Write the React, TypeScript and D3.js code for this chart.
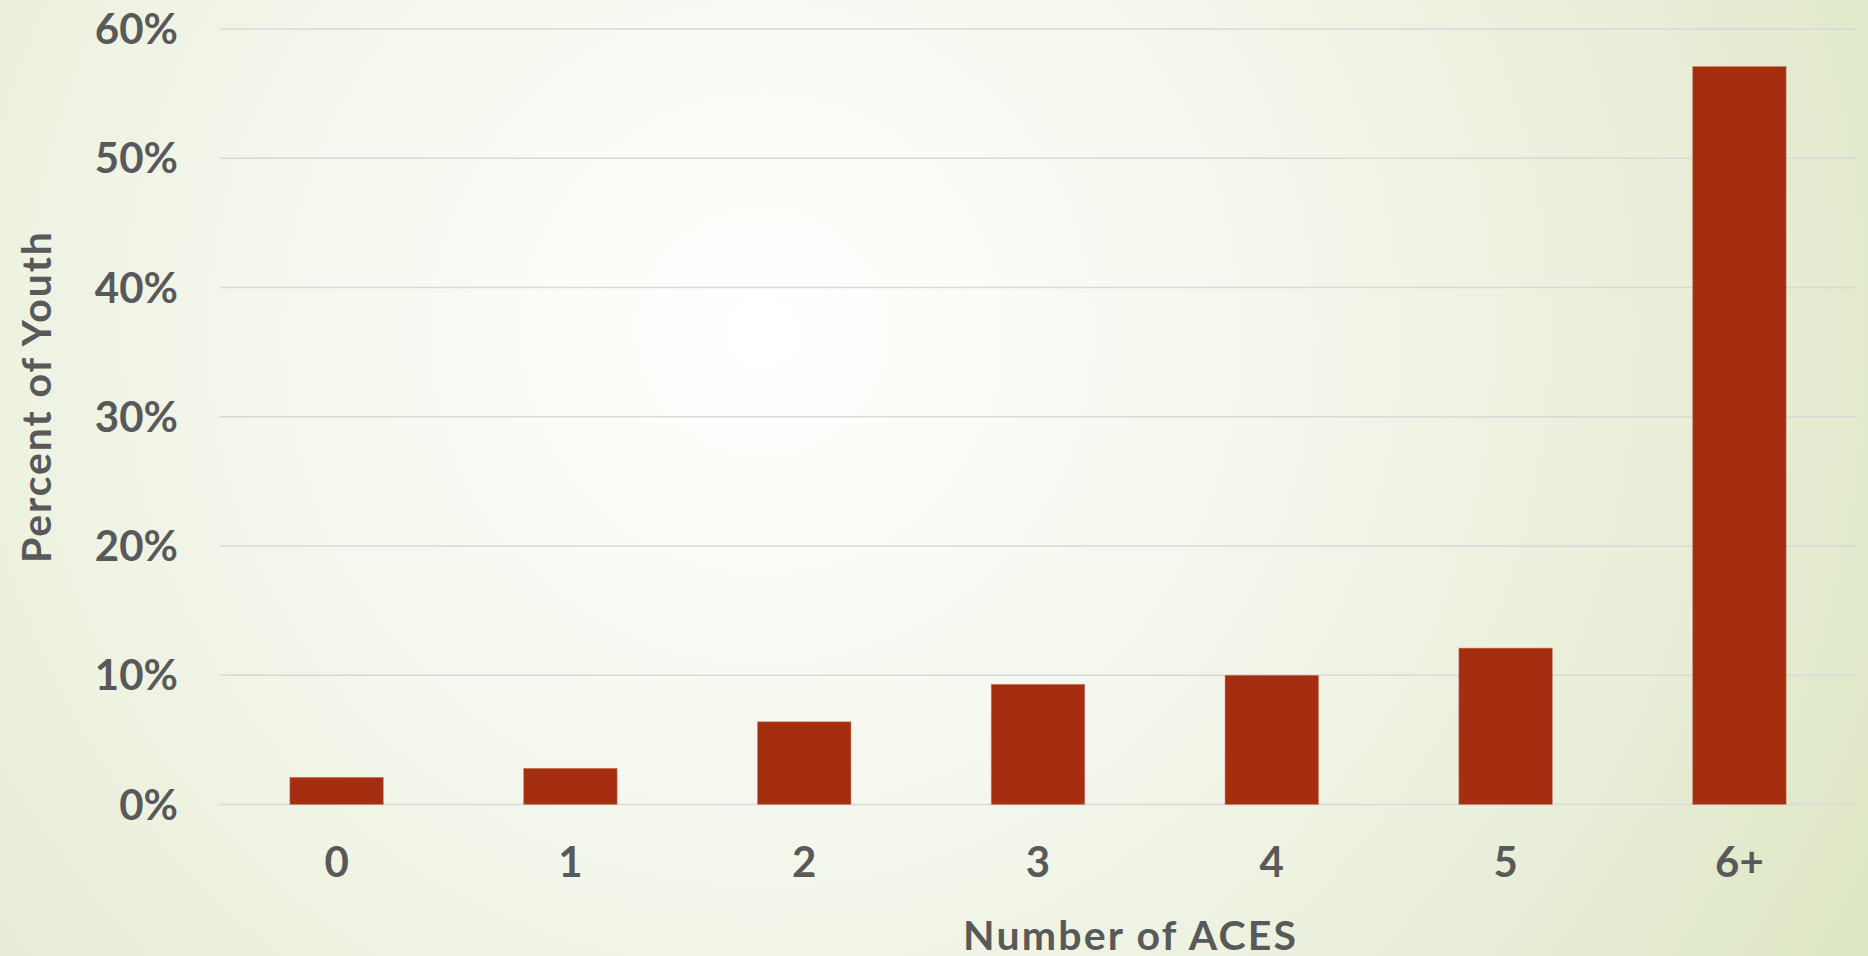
import React from "react";
import * as d3 from "d3";

// Share of youth by number of adverse childhood experiences
const categories: string[] = ["0", "1", "2", "3", "4", "5", "6+"];
const percentYouth: number[] = [2.1, 2.8, 6.4, 9.3, 10.0, 12.1, 57.1];
const yTicks: number[] = [0, 10, 20, 30, 40, 50, 60];

const W = 1868;
const H = 956;
const FONT = "Lato, 'Open Sans', sans-serif";
const TEXT = "#595959";

export default function App() {
  const x = d3
    .scaleBand<string>()
    .domain(categories)
    .range([219.7, 1856.3])
    .paddingInner(0.6)
    .paddingOuter(0.3);
  const y = d3.scaleLinear().domain([0, 60]).range([804.5, 29]);
  const fmt = (v: number) => `${v}%`;
  const [x0, x1] = x.range();

  return (
    <div style={{ position: "absolute", left: 0, top: 0, width: W, height: H }}>
      <svg width={W} height={H} style={{ display: "block" }}>
        <defs>
          <radialGradient id="bg" gradientUnits="userSpaceOnUse" cx={762} cy={333} r={1260}>
            <stop offset="0" stopColor="#ffffff" />
            <stop offset="0.12" stopColor="#fcfdf9" />
            <stop offset="0.45" stopColor="#f2f6ea" />
            <stop offset="0.75" stopColor="#e8eed8" />
            <stop offset="1" stopColor="#dde6c3" />
          </radialGradient>
        </defs>
        <rect x={0} y={0} width={W} height={H} fill="url(#bg)" />

        {/* horizontal gridlines */}
        {yTicks.map((t) => (
          <line
            key={`g${t}`}
            x1={x0}
            x2={x1}
            y1={y(t)}
            y2={y(t)}
            stroke="#d9d9d9"
            strokeWidth={1.6}
          />
        ))}

        {/* bars */}
        {categories.map((c, i) => (
          <rect
            key={c}
            x={x(c)}
            y={y(percentYouth[i])}
            width={x.bandwidth()}
            height={y(0) - y(percentYouth[i])}
            fill="#a52e10"
            stroke="#c98a6a"
            strokeOpacity={0.6}
            strokeWidth={0.8}
          />
        ))}

        {/* y tick labels */}
        {yTicks.map((t) => (
          <text
            key={`t${t}`}
            x={178}
            y={y(t)}
            dy="0.36em"
            textAnchor="end"
            fontFamily={FONT}
            fontWeight={700}
            fontSize={42}
            fill={TEXT}
          >
            {fmt(t)}
          </text>
        ))}

        {/* x tick labels */}
        {categories.map((c) => (
          <text
            key={`x${c}`}
            x={(x(c) ?? 0) + x.bandwidth() / 2}
            y={876.5}
            textAnchor="middle"
            fontFamily={FONT}
            fontWeight={700}
            fontSize={42}
            fill={TEXT}
          >
            {c}
          </text>
        ))}

        {/* axis titles */}
        <text
          x={963}
          y={950}
          fontFamily={FONT}
          fontWeight={700}
          fontSize={41}
          fill={TEXT}
          textLength={333}
          lengthAdjust="spacing"
        >
          Number of ACES
        </text>
        <text
          transform={`translate(51, 563) rotate(-90)`}
          fontFamily={FONT}
          fontWeight={700}
          fontSize={41}
          fill={TEXT}
          textLength={331}
          lengthAdjust="spacing"
        >
          Percent of Youth
        </text>
      </svg>
    </div>
  );
}
